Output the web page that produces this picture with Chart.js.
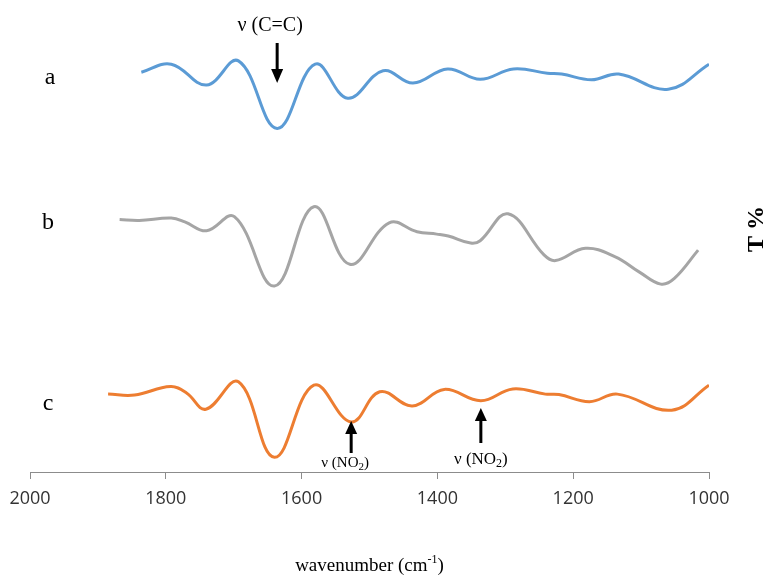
<!DOCTYPE html>
<html>
<head>
<meta charset="utf-8">
<script src="https://cdn.jsdelivr.net/npm/chart.js@4/dist/chart.umd.min.js"></script>
<style>
  body { margin: 0; background: #fff; }
  #wrap { width: 769px; height: 576px; }
</style>
</head>
<body>
<div id="wrap"><canvas id="ftir" width="769" height="576"></canvas></div>
<script>
// wavenumbers (cm-1) and transmittance-like values (offset per sample)
const waveA = [1836, 1792, 1740, 1693, 1636, 1580, 1532, 1480, 1436, 1385, 1337, 1288, 1238, 1217, 1173, 1133, 1060, 1000];
const tA    = [84.7, 86.4, 82.0, 87.1, 72.8, 86.4, 79.2, 85.0, 82.4, 85.4, 83.2, 85.4, 84.5, 84.3, 83.1, 84.3, 81.1, 86.4];

const waveB = [1868, 1839, 1792, 1772, 1740, 1699, 1640, 1582, 1529, 1471, 1430, 1401, 1384, 1351, 1337, 1296, 1243, 1226, 1182, 1138, 1103, 1071, 1051, 1016];
const tB    = [53.5, 53.3, 53.8, 53.0, 51.1, 54.1, 39.4, 56.2, 44.0, 52.8, 50.9, 50.4, 50.0, 48.5, 49.0, 54.7, 46.0, 44.8, 47.4, 45.6, 42.4, 39.8, 41.0, 47.0];

const waveC = [1885, 1846, 1793, 1769, 1741, 1693, 1640, 1582, 1527, 1485, 1437, 1390, 1336, 1289, 1241, 1221, 1176, 1135, 1055, 1000];
const tC    = [16.5, 16.3, 18.1, 16.7, 13.3, 19.1, 3.1, 18.4, 10.6, 17.0, 14.0, 17.5, 15.1, 17.6, 16.5, 16.4, 14.9, 16.5, 13.1, 18.4];

const xTicks = [2000, 1800, 1600, 1400, 1200, 1000];
// band assignments
const bands = [
  { wave: 1636, label: 'ν (C=C)', sub: '', up: false },
  { wave: 1527, label: 'ν (NO', sub: '2', up: true, size: 15 },
  { wave: 1336, label: 'ν (NO', sub: '2', up: true, size: 17 }
];

const toPoints = (w, t) => w.map((x, i) => ({ x: x, y: t[i] }));

function seriesFor(data, color) {
  return {
    data: data,
    borderColor: color,
    borderWidth: 3,
    pointRadius: 0,
    fill: false,
    tension: 0.4
  };
}

const SERIF = '"Liberation Serif", "Times New Roman", serif';

const annotate = {
  id: 'annotate',
  afterDraw(chart) {
    const ctx = chart.ctx;
    const xs = chart.scales.x;
    ctx.save();
    ctx.fillStyle = '#000';
    ctx.strokeStyle = '#000';

    // sample letters at the left
    ctx.font = '24px ' + SERIF;
    ctx.textAlign = 'center';
    ctx.textBaseline = 'alphabetic';
    ctx.fillText('a', 50, 84);
    ctx.fillText('b', 48, 229);
    ctx.fillText('c', 48, 410);

    // arrows + band labels
    bands.forEach((b, i) => {
      const x = xs.getPixelForValue(b.wave);
      if (!b.up) {
        const tip = 83;
        ctx.lineWidth = 3;
        ctx.beginPath();
        ctx.moveTo(x, 43);
        ctx.lineTo(x, tip - 10);
        ctx.stroke();
        ctx.beginPath();
        ctx.moveTo(x - 6, tip - 14);
        ctx.lineTo(x + 6, tip - 14);
        ctx.lineTo(x, tip);
        ctx.closePath();
        ctx.fill();
        ctx.font = '20px ' + SERIF;
        ctx.textAlign = 'center';
        ctx.fillText(b.label, x - 7, 31);
      } else {
        const tip = i === 1 ? 421 : 408;
        const bottom = i === 1 ? 453 : 443;
        ctx.lineWidth = 3;
        ctx.beginPath();
        ctx.moveTo(x, bottom);
        ctx.lineTo(x, tip + 10);
        ctx.stroke();
        ctx.beginPath();
        ctx.moveTo(x - 6, tip + 13);
        ctx.lineTo(x + 6, tip + 13);
        ctx.lineTo(x, tip);
        ctx.closePath();
        ctx.fill();
        const sz = b.size;
        ctx.font = sz + 'px ' + SERIF;
        const w1 = ctx.measureText(b.label).width;
        ctx.font = Math.round(sz * 0.7) + 'px ' + SERIF;
        const w2 = ctx.measureText(b.sub).width;
        ctx.font = sz + 'px ' + SERIF;
        const w3 = ctx.measureText(')').width;
        const total = w1 + w2 + w3;
        const cx = i === 1 ? x - 6 : x;
        const base = i === 1 ? 467 : 464;
        let sx = cx - total / 2;
        ctx.textAlign = 'left';
        ctx.fillText(b.label, sx, base);
        sx += w1;
        ctx.font = Math.round(sz * 0.7) + 'px ' + SERIF;
        ctx.fillText(b.sub, sx, base + 3);
        sx += w2;
        ctx.font = sz + 'px ' + SERIF;
        ctx.fillText(')', sx, base);
      }
    });

    // x title with superscript
    ctx.textAlign = 'left';
    const midX = (chart.chartArea.left + chart.chartArea.right) / 2;
    const part1 = 'wavenumber (cm';
    const sup = '-1';
    ctx.font = '19px ' + SERIF;
    const p1 = ctx.measureText(part1).width;
    const p3 = ctx.measureText(')').width;
    ctx.font = '12px ' + SERIF;
    const p2 = ctx.measureText(sup).width;
    let tx = midX - (p1 + p2 + p3) / 2;
    const ty = 571;
    ctx.font = '19px ' + SERIF;
    ctx.fillText(part1, tx, ty);
    tx += p1;
    ctx.font = '12px ' + SERIF;
    ctx.fillText(sup, tx, ty - 8);
    tx += p2;
    ctx.font = '19px ' + SERIF;
    ctx.fillText(')', tx, ty);

    // right side "T %"
    ctx.translate(757, 229);
    ctx.rotate(-Math.PI / 2);
    ctx.font = 'bold 24px ' + SERIF;
    ctx.textAlign = 'center';
    ctx.textBaseline = 'middle';
    ctx.fillText('T %', 0, 0);
    ctx.restore();
  }
};

new Chart(document.getElementById('ftir'), {
  type: 'line',
  data: {
    datasets: [
      seriesFor(toPoints(waveA, tA), '#5B9BD5'),
      seriesFor(toPoints(waveB, tB), '#A5A5A5'),
      seriesFor(toPoints(waveC, tC), '#ED7D31')
    ]
  },
  options: {
    responsive: false,
    animation: false,
    layout: { padding: { left: 30, right: 60, top: 0, bottom: 0 } },
    plugins: { legend: { display: false }, tooltip: { enabled: false } },
    scales: {
      x: {
        type: 'linear',
        reverse: true,
        min: 1000,
        max: 2000,
        afterBuildTicks(scale) {
          scale.ticks = xTicks.map(v => ({ value: v }));
        },
        afterFit(scale) {
          scale.height = 104;
        },
        grid: {
          drawOnChartArea: false,
          drawTicks: true,
          tickLength: 7,
          color: '#8c8c8c'
        },
        border: { color: '#8c8c8c', width: 1 },
        ticks: {
          maxRotation: 0,
          autoSkip: false,
          padding: 9,
          color: '#333',
          font: { family: '"Open Sans", sans-serif', size: 18 },
          callback: v => String(v)
        }
      },
      y: {
        display: false,
        min: 0,
        max: 100
      }
    }
  },
  plugins: [annotate]
});
</script>
</body>
</html>
